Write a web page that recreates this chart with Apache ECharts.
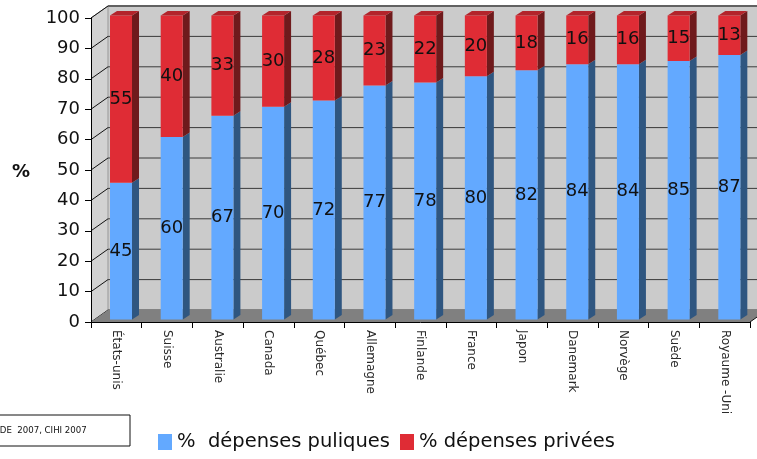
<!DOCTYPE html>
<html>
<head>
<meta charset="utf-8">
<style>
  html, body { margin: 0; padding: 0; background: #ffffff; }
  #chart { width: 757px; height: 459px; }
</style>
<script src="https://cdn.jsdelivr.net/npm/echarts@6/dist/echarts.min.js"></script>
</head>
<body>
<div id="chart"></div>
<script>
// Part publique / privée des dépenses de santé, par pays (%)
const categories = ['États-unis', 'Suisse', 'Australie', 'Canada', 'Québec', 'Allemagne',
  'Finlande', 'France', 'Japon', 'Danemark', 'Norvège', 'Suède', 'Royaume -Uni'];
const publicShare = [45, 60, 67, 70, 72, 77, 78, 80, 82, 84, 84, 85, 87];
const privateShare = [55, 40, 33, 30, 28, 23, 22, 20, 18, 16, 16, 15, 13];
const yTicks = [0, 10, 20, 30, 40, 50, 60, 70, 80, 90, 100];
const seriesNames = ['%  dépenses puliques', '% dépenses privées'];
const sourceText = 'OCDE  2007, CIHI 2007';

// 3D look: depth of the chart box and position of the bars within it
const DX = 17, DY = -12;          // full depth offset of the back wall
const BAR_SHIFT_Y = -2.5;         // bars sit slightly behind the front plane
const BAR_LEFT = 0.375, BAR_W = 0.434; // as fractions of the category band
const BAR_DX = 7, BAR_DY = -4.5;  // bar depth

const FONT = '"DejaVu Sans", Verdana, sans-serif';

const palette = {
  public: { front: '#63a9ff', side: '#2f5680', top: '#4b86cc' },
  private: { front: '#df2c35', side: '#6f1a1c', top: '#b3242b' }
};

function wallItem(params, api) {
  const cs = params.coordSys;
  const xL = cs.x, xR = cs.x + cs.width;
  const yB = api.coord([0, 0])[1];
  const yT = api.coord([0, 100])[1];
  return {
    type: 'group',
    children: [
      { type: 'polygon', shape: { points: [[xL, yB], [xL, yT], [xL + DX, yT + DY], [xL + DX, yB + DY]] },
        style: { fill: '#d2d2d2' } },
      { type: 'polygon', shape: { points: [[xL + DX, yT + DY], [xR + DX, yT + DY], [xR + DX, yB + DY], [xL + DX, yB + DY]] },
        style: { fill: '#cbcbcb' } },
      { type: 'line', shape: { x1: xL + DX, y1: yT + DY, x2: xR + DX, y2: yT + DY },
        style: { stroke: '#888888', lineWidth: 2 } },
      { type: 'line', shape: { x1: xL + DX, y1: yT + DY, x2: xL + DX, y2: yB + DY },
        style: { stroke: '#999999', lineWidth: 1 } },
      { type: 'line', shape: { x1: xL, y1: yT, x2: xL + DX, y2: yT + DY },
        style: { stroke: '#888888', lineWidth: 1 } }
    ]
  };
}

function gridItem(params, api) {
  const cs = params.coordSys;
  const xL = cs.x, xR = cs.x + cs.width;
  const y = api.coord([0, api.value(1)])[1];
  return {
    type: 'group',
    children: [
      { type: 'line', shape: { x1: xL + DX, y1: y + DY, x2: xR + DX, y2: y + DY },
        style: { stroke: '#3a3a3a', lineWidth: 1 } },
      { type: 'line', shape: { x1: xL, y1: y, x2: xL + DX, y2: y + DY },
        style: { stroke: '#111111', lineWidth: 1 } }
    ]
  };
}

function floorItem(params, api) {
  const cs = params.coordSys;
  const xL = cs.x, xR = cs.x + cs.width;
  const yB = api.coord([0, 0])[1];
  return {
    type: 'group',
    children: [
      { type: 'polygon', shape: { points: [[xL, yB], [xR, yB], [xR + DX, yB + DY], [xL + DX, yB + DY]] },
        style: { fill: '#808080' } },
      { type: 'line', shape: { x1: xR, y1: yB, x2: xR + DX, y2: yB + DY },
        style: { stroke: '#111111', lineWidth: 1 } }
    ]
  };
}

function makeBar(colors, withTop) {
  return function (params, api) {
    const idx = api.value(0);
    const lo = api.value(1), hi = api.value(2);
    const band = api.size([1, 0])[0];
    const cx = api.coord([idx, 0])[0];
    const x0 = cx - band / 2 + BAR_LEFT * band;
    const w = BAR_W * band;
    const yLo = api.coord([idx, lo])[1] + BAR_SHIFT_Y;
    const yHi = api.coord([idx, hi])[1] + BAR_SHIFT_Y;
    const children = [
      { type: 'polygon', shape: { points: [[x0 + w, yLo], [x0 + w, yHi], [x0 + w + BAR_DX, yHi + BAR_DY], [x0 + w + BAR_DX, yLo + BAR_DY]] },
        style: { fill: colors.side } },
      { type: 'rect', shape: { x: x0, y: yHi, width: w, height: yLo - yHi },
        style: { fill: colors.front } }
    ];
    if (withTop) {
      children.push({ type: 'polygon', shape: { points: [[x0, yHi], [x0 + w, yHi], [x0 + w + BAR_DX, yHi + BAR_DY], [x0 + BAR_DX, yHi + BAR_DY]] },
        style: { fill: colors.top } });
    }
    children.push({
      type: 'text',
      style: {
        text: String(hi - lo), x: x0 + w / 2, y: (yLo + yHi) / 2,
        align: 'center', verticalAlign: 'middle',
        font: '18px ' + FONT, fill: '#111111'
      }
    });
    return { type: 'group', children: children };
  };
}

const publicData = publicShare.map((v, i) => [i, 0, v]);
const privateData = privateShare.map((v, i) => [i, publicShare[i], publicShare[i] + v]);

const chart = echarts.init(document.getElementById('chart'), null, { renderer: 'canvas' });
chart.setOption({
  animation: false,
  backgroundColor: '#ffffff',
  grid: { left: 91, right: 7, top: 18, bottom: 137, containLabel: false },
  xAxis: {
    type: 'category',
    data: categories,
    boundaryGap: true,
    axisLine: { lineStyle: { color: '#000000', width: 1 } },
    axisTick: { show: true, length: 6, lineStyle: { color: '#000000' } },
    axisLabel: { rotate: -90, margin: 8, fontFamily: FONT, fontSize: 12, color: '#2a2a2a', interval: 0 },
    splitLine: { show: false },
    z: 10
  },
  yAxis: {
    type: 'value',
    min: 0, max: 100, interval: 10,
    axisLine: { show: true, lineStyle: { color: '#000000', width: 1 } },
    axisTick: { show: true, length: 6, lineStyle: { color: '#000000' } },
    axisLabel: { margin: 11, fontFamily: FONT, fontSize: 18, color: '#111111',
      formatter: v => (yTicks.indexOf(v) >= 0 ? String(v) : '') },
    splitLine: { show: false },
    z: 10
  },
  legend: {
    left: 158, top: 432, padding: 0,
    icon: 'rect', itemWidth: 14, itemHeight: 16, itemGap: 10,
    textStyle: { fontFamily: FONT, fontSize: 19.5, color: '#111111' },
    data: seriesNames
  },
  graphic: [
    { type: 'text', left: 12, top: 163,
      style: { text: '%', font: 'bold 18px ' + FONT, fill: '#111111' } },
    { type: 'rect', shape: { x: -6, y: 415, width: 136, height: 31 },
      style: { fill: '#ffffff', stroke: '#111111', lineWidth: 1 } },
    { type: 'text', x: -13, y: 431,
      style: { text: sourceText, font: '8.6px ' + FONT, fill: '#111111', verticalAlign: 'middle' } }
  ],
  series: [
    { type: 'custom', name: 'wall', data: [[0, 0]], renderItem: wallItem, silent: true, z: 1 },
    { type: 'custom', name: 'grid', data: yTicks.map(v => [0, v]), renderItem: gridItem, silent: true, z: 2 },
    { type: 'custom', name: 'floor', data: [[0, 0]], renderItem: floorItem, silent: true, z: 3 },
    { type: 'custom', name: seriesNames[0], data: publicData, renderItem: makeBar(palette.public, false),
      itemStyle: { color: palette.public.front }, encode: { x: 0, y: [1, 2] }, z: 4 },
    { type: 'custom', name: seriesNames[1], data: privateData, renderItem: makeBar(palette.private, true),
      itemStyle: { color: palette.private.front }, encode: { x: 0, y: [1, 2] }, z: 5 }
  ]
});
</script>
</body>
</html>
